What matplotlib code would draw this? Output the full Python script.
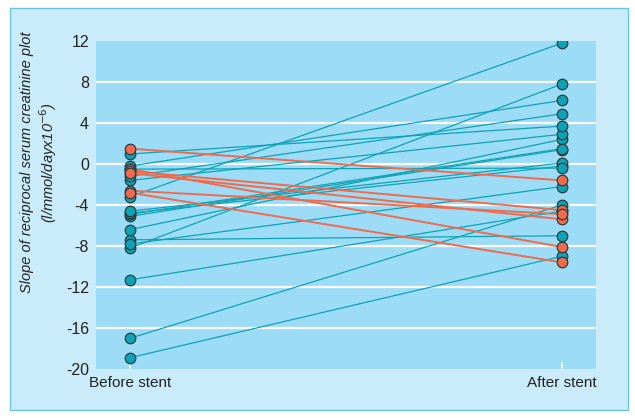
import matplotlib.pyplot as plt
from matplotlib.patches import Rectangle

plt.rcParams['font.family'] = ['Liberation Sans Narrow', 'Liberation Sans', 'DejaVu Sans']

# 数据: 支架前 / 支架后
teal_before = [-18.9, -17.0, -11.3, -7.4, -8.2, -7.8, -6.4, -5.1, -4.9, -4.8, -4.6, -3.2, -1.6, -1.2, -0.5, -0.2, 0.98]
teal_after = [-9.0, -4.0, -4.6, -7.0, 7.8, -2.2, 2.4, 1.4, 1.5, -0.2, 0.1, 11.8, 2.9, 4.9, -0.4, 6.2, 3.7]
orange_before = [1.5, -0.5, -0.7, -0.9, -2.6, -2.8]
orange_after = [-1.6, -8.1, -4.5, -5.4, -4.9, -9.6]
x_labels = ['Before stent', 'After stent']
y_ticks = [12, 8, 4, 0, -4, -8, -12, -16, -20]

teal = '#0da3b5'
orange = '#f06a4c'

fig = plt.figure(figsize=(6.35, 4.18), dpi=100)
fig.patch.set_facecolor('white')
# 外框
fig.patches.append(Rectangle((10 / 635, 8 / 418), 618 / 635, 402 / 418, transform=fig.transFigure,
                             facecolor='#c9ebfa', edgecolor='#6cc3e8', linewidth=1.0, zorder=-5))

ax = fig.add_axes([96 / 635, 49 / 418, 500 / 635, 328 / 418])
ax.set_zorder(1)
ax.set_facecolor('#9ddcf6')
for s in ax.spines.values():
    s.set_visible(False)

for y in y_ticks[1:-1]:
    ax.axhline(y, color='white', linewidth=1.6, zorder=1)

for b, a in zip(teal_before, teal_after):
    ax.plot([0, 1], [b, a], color=teal, linewidth=0.9, zorder=2)
for b, a in zip(orange_before, orange_after):
    ax.plot([0, 1], [b, a], color=orange, linewidth=1.4, zorder=3)

mk = dict(marker='o', markersize=7.6, markeredgecolor='#2f3a3e', markeredgewidth=0.9, linestyle='none')
ax.plot([0] * len(teal_before), teal_before, markerfacecolor=teal, zorder=4, **mk)
ax.plot([1] * len(teal_after), teal_after, markerfacecolor=teal, zorder=4, **mk)
ax.plot([0] * len(orange_before), orange_before, markerfacecolor=orange, zorder=5, **mk)
ax.plot([1] * len(orange_after), orange_after, markerfacecolor=orange, zorder=5, **mk)

ax.set_xlim(-34 / 432, 1 + 34 / 432)
ax.set_ylim(-20, 12)
ax.set_yticks(y_ticks)
ax.set_yticklabels([str(v) for v in y_ticks], fontsize=11.5)
ax.tick_params(axis='y', length=0, pad=5, colors='#222222')
ax.set_xticks([0, 1])
ax.set_xticklabels(x_labels, fontsize=11)
ax.tick_params(axis='x', direction='in', length=5, width=1.2, color='white', pad=5, labelcolor='#222222')

ax.set_ylabel('Slope of reciprocal serum creatinine plot\n(l/mmol/dayx10$^{-6}$)', fontsize=10.5,
              style='italic', color='#222222', linespacing=1.2)
ax.yaxis.set_label_coords(-0.074, 0.63)

fig.savefig('out.png', dpi=100)
